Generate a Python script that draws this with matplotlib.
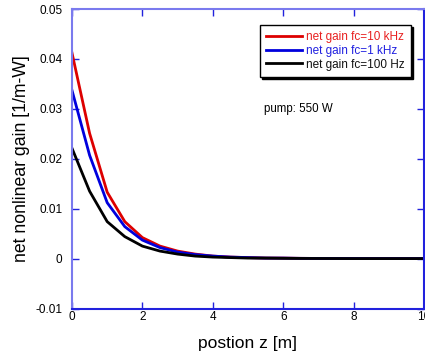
import matplotlib
matplotlib.use('Agg')
import matplotlib.pyplot as plt

plt.rcParams['font.family'] = ['Liberation Sans', 'DejaVu Sans']

# posiciones a lo largo de la fibra [m]
z = [0, 0.5, 1, 1.5, 2, 2.5, 3, 3.5, 4, 4.5, 5, 5.5, 6, 6.5, 7, 7.5, 8, 8.5, 9, 9.5, 10]

# ganancia neta no lineal [1/m-W]
gain_10k = [0.0412, 0.0251, 0.0133, 0.0074, 0.0042, 0.0025, 0.0015, 0.0009, 0.0005,
            0.0003, 0.0002, 0.0001, 0.0001, 0.00005, 0.00003, 0.00002, 0.00001, 0, 0, 0, 0]
gain_1k = [0.0337, 0.0207, 0.0112, 0.0064, 0.0037, 0.0022, 0.0013, 0.0008, 0.0005,
           0.0003, 0.0002, 0.0001, 0.0001, 0.00005, 0.00003, 0.00002, 0.00001, 0, 0, 0, 0]
gain_100 = [0.0221, 0.0135, 0.0074, 0.0044, 0.0025, 0.0015, 0.0009, 0.0005, 0.0003,
            0.0002, 0.0001, 0.0001, 0.00005, 0.00003, 0.00002, 0.00001, 0, 0, 0, 0, 0]

labels = ['net gain fc=10 kHz', 'net gain fc=1 kHz', 'net gain fc=100 Hz']
colors = ['#dd0000', '#0000dd', '#000000']
text_colors = ['#e82020', '#2020e0', '#111111']

yticks = [-0.01, 0, 0.01, 0.02, 0.03, 0.04, 0.05]
ytick_labels = ['-0.01', '0', '0.01', '0.02', '0.03', '0.04', '0.05']
xticks = [0, 2, 4, 6, 8, 10]

fig = plt.figure(figsize=(4.25, 3.64), dpi=100)
ax = fig.add_axes([72 / 425, 1 - 308.5 / 364, 352 / 425, 299.5 / 364])

for serie, lab, col in zip([gain_10k, gain_1k, gain_100], labels, colors):
    ax.plot(z, serie, color=col, lw=2, label=lab)

ax.set_xlim(0, 10)
ax.set_ylim(-0.01, 0.05)
ax.set_xticks(xticks)
ax.set_xticklabels([str(t) for t in xticks])
ax.set_yticks(yticks)
ax.set_yticklabels(ytick_labels)

# ejes en azul, como el original
ax.spines['left'].set_color('#7a7aee')
ax.spines['top'].set_color('#7a7aee')
ax.spines['bottom'].set_color('#2222dd')
ax.spines['right'].set_color('#2222dd')
for s in ax.spines.values():
    s.set_linewidth(1.5)
ax.tick_params(direction='in', top=True, right=True, color='#2222dd',
               length=5, width=1, labelsize=8.5)
ax.tick_params(axis='y', pad=7)
ax.tick_params(axis='x', pad=2)

ax.set_xlabel('postion z [m]', fontsize=12.5, labelpad=9)
ax.set_ylabel('net nonlinear gain [1/m-W]', fontsize=12.7, labelpad=4)

leg = ax.legend(loc='upper right', bbox_to_anchor=(0.963, 0.948), fontsize=8.5,
                frameon=True, fancybox=False,
                shadow={'color': 'black', 'alpha': 1, 'ox': 1.5, 'oy': -1.5},
                handlelength=3.0, borderpad=0.55, labelspacing=0.15,
                handletextpad=0.35, borderaxespad=0)
leg.get_frame().set_edgecolor('black')
leg.get_frame().set_linewidth(1)
for txt, col in zip(leg.get_texts(), text_colors):
    txt.set_color(col)

ax.text(0.545, 0.666, 'pump: 550 W', transform=ax.transAxes, fontsize=8.3,
        va='center', ha='left')

fig.savefig('out.png', dpi=100)
